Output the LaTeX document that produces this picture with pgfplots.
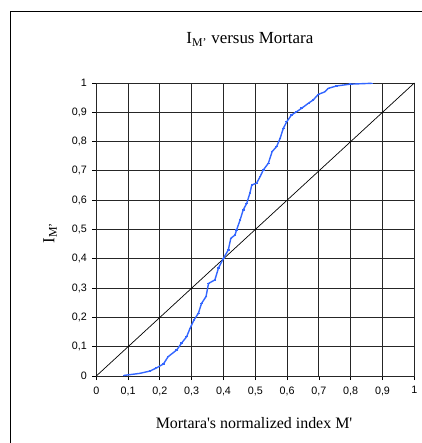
\documentclass[border=0pt]{standalone}
\usepackage{pgfplots}
\pgfplotsset{compat=1.18}
\usepackage{fontspec}
\setmainfont{Liberation Serif}
\newfontfamily\arial{Liberation Sans}
\definecolor{curveblue}{RGB}{51,102,255}
\begin{document}
\begin{tikzpicture}
\useasboundingbox (-96.3bp,-67bp) rectangle (325.7bp,376bp);
\draw[line width=1bp] (-85.3bp,-80bp) -- (-85.3bp,364bp) -- (340bp,364bp);
\begin{axis}[
  at={(0,0)}, anchor=south west,
  scale only axis, width=318bp, height=293bp,
  xmin=0, xmax=1, ymin=0, ymax=1,
  xtick={0,0.1,...,1}, ytick={0,0.1,...,1},
  grid=major,
  major grid style={black!85, line width=0.9bp},
  axis line style={black!85, line width=0.9bp},
  tick style={black, line width=0.8bp},
  tick align=outside, major tick length=4bp,
  xtick pos=left, ytick pos=left,
  /pgf/number format/use comma,
  /pgf/number format/assume math mode=true,
  ticklabel style={font=\arial\fontsize{10.8}{12}\selectfont},
  xticklabel style={yshift=-3bp},
  yticklabel style={xshift=-2bp},
  xlabel={Mortara\textquotesingle s normalized index M\textquotesingle},
  xlabel style={font=\fontsize{16}{18}\selectfont, at={(axis description cs:0.496,-0.162)}, anchor=center},
  title={I\textsubscript{M\textquoteright} versus Mortara},
  title style={font=\fontsize{17}{19}\selectfont, at={(axis description cs:0.483,1.128)}, anchor=center},
  clip=false,
]
\addplot[black, line width=0.7bp] coordinates {(0,0) (1,1)};
\addplot[curveblue, line width=1.4bp, mark=-, mark size=1.3bp] coordinates {
(0.087,0.002) (0.137,0.009) (0.169,0.017) (0.19,0.028) (0.211,0.041)
(0.226,0.066) (0.253,0.089) (0.268,0.112) (0.284,0.134) (0.295,0.163)
(0.307,0.191) (0.321,0.214) (0.331,0.248) (0.345,0.271) (0.353,0.316)
(0.373,0.328) (0.384,0.368) (0.400,0.402) (0.415,0.430) (0.423,0.470)
(0.436,0.481) (0.441,0.498) (0.452,0.532) (0.462,0.567) (0.473,0.589)
(0.483,0.624) (0.489,0.652) (0.504,0.658) (0.515,0.680) (0.525,0.703)
(0.541,0.726) (0.553,0.766) (0.567,0.783) (0.578,0.811) (0.588,0.845)
(0.599,0.868) (0.614,0.891) (0.630,0.902) (0.646,0.914) (0.667,0.931)
(0.682,0.942) (0.698,0.961) (0.719,0.970) (0.730,0.982) (0.756,0.990)
(0.798,0.996) (0.866,0.999)
};
\node[rotate=90, font=\fontsize{17}{19}\selectfont, anchor=center] at (axis description cs:-0.1456,0.488) {I\textsubscript{M\textquoteright}};
\end{axis}
\end{tikzpicture}
\end{document}
